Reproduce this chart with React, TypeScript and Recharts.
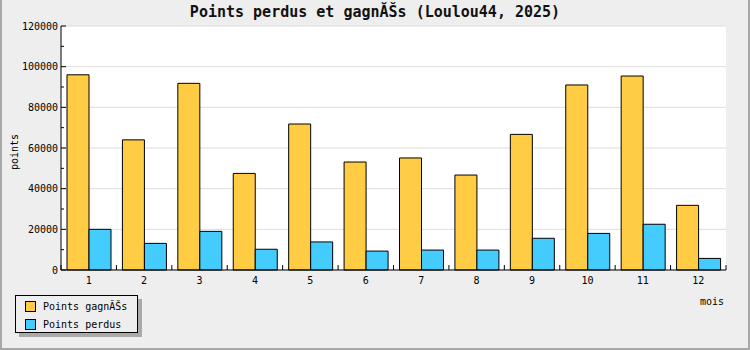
import { BarChart, Bar, XAxis, YAxis, CartesianGrid, Label } from "recharts";

const months = ["1", "2", "3", "4", "5", "6", "7", "8", "9", "10", "11", "12"];
const gagnes = [96000, 64000, 91800, 47500, 71800, 53100, 55100, 46700, 66700, 91000, 95400, 31800];
const perdus = [20000, 13100, 19000, 10200, 13800, 9300, 9800, 9800, 15600, 18000, 22500, 5700];
const yTicks = [0, 10000, 20000, 30000, 40000, 50000, 60000, 70000, 80000, 90000, 100000, 110000, 120000];
const gridValues = [0, 20000, 40000, 60000, 80000, 100000, 120000];

const seriesNames = ["Points gagnĂŠs", "Points perdus"];
const seriesColors = ["#ffcc44", "#44ccff"];

const W = 750;
const H = 350;
const MARGIN = { top: 26, right: 24, bottom: 44, left: 0 };
const Y_AXIS_W = 61;
const PLOT_W = W - MARGIN.left - MARGIN.right - Y_AXIS_W;
const X_TICK_MARGIN = 7;
const FONT = "'DejaVu Sans Mono', monospace";

const data = months.map((m, i) => ({ mois: m, gagnes: gagnes[i], perdus: perdus[i] }));

function YTick(props: any) {
  const { x, y, payload } = props;
  const major = payload.value % 20000 === 0;
  return (
    <g>
      <line x1={x + 3} x2={x + 3 + (major ? 5 : 3)} y1={y} y2={y} stroke="#000" />
      {major && (
        <text x={x} y={y} dy="0.355em" textAnchor="end" fontSize={10} fontFamily={FONT} fill="#000">
          {payload.value}
        </text>
      )}
    </g>
  );
}

function XTick(props: any) {
  const { x, y, payload, index } = props;
  const half = PLOT_W / months.length / 2;
  const axisY = y - X_TICK_MARGIN;
  return (
    <g>
      <line x1={x - half} x2={x - half} y1={axisY} y2={axisY - 5} stroke="#000" />
      {index === months.length - 1 && <line x1={x + half} x2={x + half} y1={axisY} y2={axisY - 5} stroke="#000" />}
      <text x={x} y={y} dy="0.71em" textAnchor="middle" fontSize={10} fontFamily={FONT} fill="#000">
        {payload.value}
      </text>
    </g>
  );
}

export default function App() {
  return (
    <div
      style={{
        position: "absolute",
        left: 0,
        top: 0,
        width: W,
        height: H,
        background: "#eeeeee",
        boxShadow: "inset 2px 0 #a8a8a8, inset -2px 0 #a8a8a8, inset 0 -2px #a8a8a8",
      }}
    >
      <div
        style={{
          position: "absolute",
          top: 4,
          left: 0,
          width: W,
          textAlign: "center",
          fontFamily: FONT,
          fontWeight: "bold",
          fontSize: 15,
          lineHeight: "17px",
          color: "#111",
        }}
      >
        Points perdus et gagnĂŠs (Loulou44, 2025)
      </div>
      <div style={{ position: "absolute", left: 0, top: 0 }}>
        <BarChart width={W} height={H} data={data} margin={MARGIN} barCategoryGap={6} barGap={0}>
          <CartesianGrid vertical={false} horizontalValues={gridValues} stroke="#dddddd" fill="#ffffff" />
          <XAxis
            dataKey="mois"
            height={36}
            tickLine={false}
            tickSize={0}
            tickMargin={X_TICK_MARGIN}
            axisLine={{ stroke: "#000" }}
            tick={<XTick />}
            interval={0}
          >
            <Label
              content={({ viewBox }: any) => (
                <text
                  x={viewBox.x + viewBox.width - 2}
                  y={viewBox.y + 35}
                  textAnchor="end"
                  fontSize={10}
                  fontFamily={FONT}
                  fill="#000"
                >
                  mois
                </text>
              )}
            />
          </XAxis>
          <YAxis
            width={Y_AXIS_W}
            domain={[0, 120000]}
            ticks={yTicks}
            interval={0}
            tickLine={false}
            tickSize={0}
            tickMargin={3}
            axisLine={{ stroke: "#000" }}
            tick={<YTick />}
          >
            <Label
              content={({ viewBox }: any) => {
                const cx = 18;
                const cy = viewBox.y + viewBox.height / 2 + 4;
                return (
                  <text
                    x={cx}
                    y={cy}
                    transform={`rotate(-90 ${cx} ${cy})`}
                    textAnchor="middle"
                    fontSize={10}
                    fontFamily={FONT}
                    fill="#000"
                  >
                    points
                  </text>
                );
              }}
            />
          </YAxis>
          <Bar dataKey="gagnes" name={seriesNames[0]} fill={seriesColors[0]} stroke="#000" strokeWidth={1} isAnimationActive={false} />
          <Bar dataKey="perdus" name={seriesNames[1]} fill={seriesColors[1]} stroke="#000" strokeWidth={1} isAnimationActive={false} />
        </BarChart>
      </div>
      <div
        style={{
          position: "absolute",
          left: 15,
          top: 295,
          width: 121,
          height: 36,
          border: "1px solid #000",
          background: "#eeeeee",
          boxShadow: "4px 4px 0 #aaaaaa",
          fontFamily: FONT,
          fontSize: 10,
        }}
      >
        {seriesNames.map((n, i) => (
          <div key={n} style={{ position: "absolute", left: 9, top: 5 + i * 18, display: "flex", alignItems: "center" }}>
            <span
              style={{
                display: "inline-block",
                width: 9,
                height: 9,
                background: seriesColors[i],
                border: "1px solid #000",
                marginRight: 7,
              }}
            />
            <span style={{ lineHeight: "10px" }}>{n}</span>
          </div>
        ))}
      </div>
    </div>
  );
}
